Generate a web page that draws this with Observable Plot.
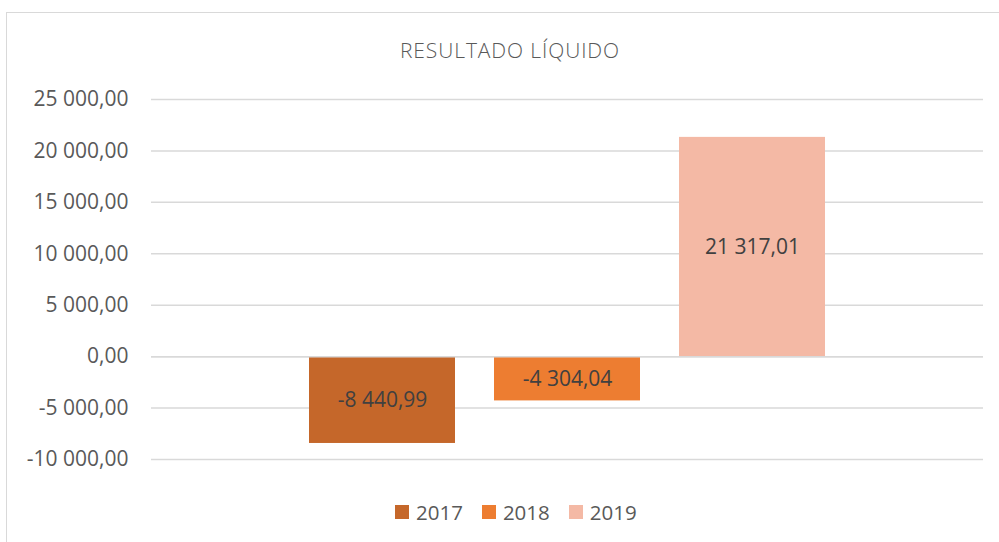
<!DOCTYPE html>
<html>
<head>
<meta charset="utf-8">
<script src="https://cdn.jsdelivr.net/npm/d3@7"></script>
<script src="https://cdn.jsdelivr.net/npm/@observablehq/plot@0.6"></script>
<style>
  html, body { margin: 0; padding: 0; background: #fff; }
  #wrap { position: relative; width: 999px; height: 542px; overflow: hidden; font-family: "Open Sans", sans-serif; }
  #frame { position: absolute; left: 6px; top: 12px; width: 1100px; height: 600px; border: 1.5px solid #d9d9d9; box-sizing: border-box; }
  #title { position: absolute; left: 260px; width: 500px; top: 35px; text-align: center; font-size: 21px; font-weight: 300; letter-spacing: 0.9px; color: #595959; line-height: 30px; }
  #chart { position: absolute; left: 0; top: 80px; }
  #legend { position: absolute; left: 395px; top: 499px; display: flex; align-items: center; font-size: 20.5px; color: #595959; line-height: 26px; }
  .item { display: flex; align-items: center; margin-right: 19px; }
  .sw { width: 14px; height: 14px; margin-right: 7px; }
</style>
</head>
<body>
<div id="wrap">
  <div id="frame"></div>
  <div id="title">RESULTADO LÍQUIDO</div>
  <div id="chart"></div>
  <div id="legend"></div>
</div>
<script>
const years = ["2017", "2018", "2019"];
const values = [-8440.99, -4304.04, 21317.01];
const colors = ["#C5672A", "#ED7D31", "#F4B9A5"];
const yTicks = [-10000, -5000, 0, 5000, 10000, 15000, 20000, 25000];

const data = years.map((y, i) => ({year: y, value: values[i]}));
const loc = d3.formatLocale({decimal: ",", thousands: " ", grouping: [3], currency: ["", ""], minus: "-"});
const fmt = loc.format(",.2f");

const chart = Plot.plot({
  width: 999,
  height: 400,
  marginLeft: 151,
  marginRight: 16,
  marginTop: 19,
  marginBottom: 21,
  style: {fontFamily: "'Open Sans', sans-serif", fontSize: "21px", color: "#595959", background: "transparent", overflow: "visible"},
  x: {domain: years, paddingInner: 0.211, paddingOuter: 0.854, axis: null},
  y: {domain: [-10000, 25000], ticks: yTicks, tickFormat: fmt, tickSize: 0, tickPadding: 23, label: null},
  color: {domain: years, range: colors},
  marks: [
    Plot.ruleY(yTicks, {stroke: "#d9d9d9", strokeWidth: 1.5}),
    Plot.barY(data, {x: "year", y1: 0, y2: "value", fill: "year"}),
    Plot.ruleY([0], {stroke: "#d9d9d9", strokeWidth: 1.5}),
    Plot.text(data, {x: "year", y: d => d.value / 2, text: d => fmt(d.value), fill: "#404040", fontSize: 21})
  ]
});
document.getElementById("chart").appendChild(chart);

const legend = document.getElementById("legend");
years.forEach((y, i) => {
  const it = document.createElement("div");
  it.className = "item";
  const sw = document.createElement("div");
  sw.className = "sw";
  sw.style.background = colors[i];
  const t = document.createElement("span");
  t.textContent = y;
  it.appendChild(sw); it.appendChild(t);
  legend.appendChild(it);
});
</script>
</body>
</html>
